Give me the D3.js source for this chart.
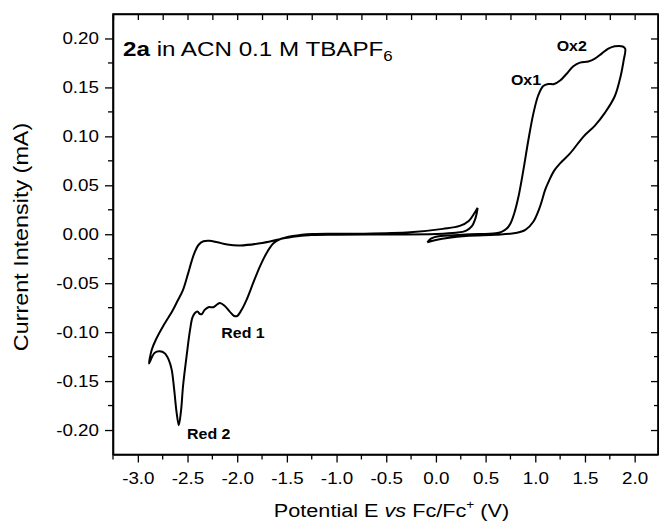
<!DOCTYPE html>
<html>
<head>
<meta charset="utf-8">
<script src="https://cdnjs.cloudflare.com/ajax/libs/d3/7.8.5/d3.min.js"></script>
<style>
  body { margin: 0; background: #fff; }
  svg { display: block; }
  text { font-family: "Liberation Sans", Arial, sans-serif; fill: #000; }
</style>
</head>
<body>
<svg></svg>
<script>
var WIDTH = 659;
var HEIGHT = 529;
var STRETCH = 1.14; // text in the original is a bit wide

// reduction scan (V vs Fc/Fc+, mA)
var redE = [0.42, 0.40, 0.36, 0.30, 0.20, 0.0, -0.5, -1.0, -1.25, -1.44, -1.57, -1.77, -1.97, -2.10, -2.20, -2.28, -2.34, -2.39, -2.43, -2.46, -2.494, -2.545, -2.60, -2.65, -2.746, -2.82, -2.86, -2.887,
  -2.86, -2.83, -2.78, -2.73, -2.69, -2.66, -2.635, -2.61, -2.588, -2.565, -2.545, -2.51, -2.475, -2.45, -2.425, -2.40, -2.375, -2.355, -2.33, -2.29, -2.24, -2.20, -2.175, -2.13, -2.075, -2.03, -2.0, -1.96, -1.906, -1.84, -1.772, -1.705, -1.638, -1.571, -1.44, -1.24, -0.8, -0.26, 0.07, 0.24, 0.33, 0.39, 0.42];
var redI = [0.027, 0.017, 0.008, 0.0035, 0.0015, 0.0003, -0.0002, -0.0004, -0.0008, -0.0025, -0.005, -0.0092, -0.0114, -0.0105, -0.0082, -0.0066, -0.0072, -0.011, -0.019, -0.028, -0.040, -0.0568, -0.068, -0.078, -0.094, -0.108, -0.118, -0.132,
  -0.126, -0.121, -0.1196, -0.1215, -0.128, -0.138, -0.158, -0.182, -0.195, -0.18, -0.155, -0.125, -0.098, -0.085, -0.0805, -0.079, -0.0815, -0.0815, -0.0775, -0.0745, -0.0745, -0.0715, -0.0703, -0.0728, -0.079, -0.0835, -0.0835, -0.078, -0.067, -0.05, -0.033, -0.0194, -0.0095, -0.0051, -0.0018, 0.0003, 0.0005, 0.002, 0.0055, 0.0085, 0.0135, 0.022, 0.027];

// oxidation scan
var oxE = [-0.087, -0.05, 0.0, 0.3, 0.6, 0.66, 0.71, 0.75, 0.79, 0.83, 0.88, 0.93, 0.98, 1.03, 1.08, 1.13, 1.19, 1.25, 1.316, 1.383, 1.45, 1.534, 1.60, 1.668, 1.735, 1.80, 1.88, 1.905,
  1.89, 1.86, 1.80, 1.70, 1.60, 1.483, 1.35, 1.25, 1.19, 1.14, 1.10, 1.047, 0.98, 0.90, 0.80, 0.6, 0.3, 0.0, -0.087];
var oxI = [-0.0082, -0.0045, -0.0025, -0.0003, 0.001, 0.0025, 0.0055, 0.011, 0.022, 0.038, 0.0655, 0.096, 0.123, 0.142, 0.1515, 0.1535, 0.1535, 0.157, 0.164, 0.1716, 0.1753, 0.1765, 0.1794, 0.1845, 0.1896, 0.192, 0.1918, 0.1895,
  0.178, 0.162, 0.141, 0.124, 0.111, 0.0995, 0.0826, 0.0724, 0.065, 0.055, 0.0455, 0.0281, 0.0128, 0.0044, 0.0012, -0.0005, -0.0018, -0.0058, -0.0082];

var xTicks = [-3.0, -2.5, -2.0, -1.5, -1.0, -0.5, 0.0, 0.5, 1.0, 1.5, 2.0];
var xMinor = [-3.25, -2.75, -2.25, -1.75, -1.25, -0.75, -0.25, 0.25, 0.75, 1.25, 1.75];
var yTicks = [-0.20, -0.15, -0.10, -0.05, 0.00, 0.05, 0.10, 0.15, 0.20];
var yMinor = [-0.175, -0.125, -0.075, -0.025, 0.025, 0.075, 0.125, 0.175];

var peakLabels = ['Ox1', 'Ox2', 'Red 1', 'Red 2'];
var peakE = [0.755, 1.215, -2.16, -2.505];
var peakI = [0.152, 0.187, -0.106, -0.209];

var svg = d3.select('svg')
  .attr('width', WIDTH)
  .attr('height', HEIGHT);

var pLeft = 113, pRight = 658, pTop = 14, pBottom = 454.5;

var xScale = d3.scaleLinear().domain([-3.25, 2.235]).range([pLeft, pRight]);
var yScale = d3.scaleLinear().domain([-0.225, 0.225]).range([pBottom, pTop]);

var fmtX = function(d) { return d.toFixed(1); };
var fmtY = function(d) { return d.toFixed(2); };

// bottom axis, ticks out
var bottomAxis = d3.axisBottom(xScale).tickValues(xTicks).tickFormat(fmtX).tickSize(8).tickSizeOuter(0).tickPadding(10);
var gb = svg.append('g').attr('transform', 'translate(0,' + pBottom + ')').call(bottomAxis);
gb.selectAll('.tick text').attr('font-size', 16.5).attr('transform', 'scale(' + STRETCH + ',1)').attr('dy', '0.72em');
gb.selectAll('.minor').data(xMinor).enter().append('line')
  .attr('x1', function(d) { return xScale(d); }).attr('x2', function(d) { return xScale(d); })
  .attr('y1', 0).attr('y2', 5).attr('stroke', '#000').attr('stroke-width', 1.3);

// left axis, ticks out
var leftAxis = d3.axisLeft(yScale).tickValues(yTicks).tickFormat(fmtY).tickSize(8).tickSizeOuter(0).tickPadding(6);
var gl = svg.append('g').attr('transform', 'translate(' + pLeft + ',0)').call(leftAxis);
gl.selectAll('.tick text').attr('font-size', 16.5)
  .attr('x', -14 / STRETCH).attr('transform', 'scale(' + STRETCH + ',1)');
gl.selectAll('.minor').data(yMinor).enter().append('line')
  .attr('y1', function(d) { return yScale(d); }).attr('y2', function(d) { return yScale(d); })
  .attr('x1', 0).attr('x2', -5).attr('stroke', '#000').attr('stroke-width', 1.3);

// top and right axes, ticks inside, no labels
var topAxis = d3.axisBottom(xScale).tickValues(xTicks.concat(xMinor)).tickFormat('').tickSize(6).tickSizeOuter(0);
svg.append('g').attr('transform', 'translate(0,' + pTop + ')').call(topAxis);
var rightAxis = d3.axisLeft(yScale).tickValues(yTicks).tickFormat('').tickSize(7).tickSizeOuter(0);
var gr = svg.append('g').attr('transform', 'translate(' + pRight + ',0)').call(rightAxis);
gr.selectAll('.minor').data(yMinor).enter().append('line')
  .attr('y1', function(d) { return yScale(d); }).attr('y2', function(d) { return yScale(d); })
  .attr('x1', 0).attr('x2', -4).attr('stroke', '#000').attr('stroke-width', 1.3);

svg.selectAll('.domain').attr('stroke-width', 1.6);
svg.selectAll('.tick line').attr('stroke-width', 1.3);

// frame
svg.append('rect')
  .attr('x', pLeft).attr('y', pTop)
  .attr('width', pRight - pLeft).attr('height', pBottom - pTop)
  .attr('fill', 'none').attr('stroke', '#000').attr('stroke-width', 1.6);

// curves
var line = d3.line()
  .x(function(d) { return xScale(d[0]); })
  .y(function(d) { return yScale(d[1]); })
  .curve(d3.curveCatmullRom.alpha(0.5));

var redData = redE.map(function(e, i) { return [e, redI[i]]; });
var oxData = oxE.map(function(e, i) { return [e, oxI[i]]; });

svg.selectAll('path.cv').data([redData, oxData]).enter().append('path')
  .attr('class', 'cv')
  .attr('d', line)
  .attr('fill', 'none')
  .attr('stroke', '#000')
  .attr('stroke-width', 2)
  .attr('stroke-linejoin', 'round');

// peak labels
svg.selectAll('text.peak').data(peakLabels).enter().append('text')
  .attr('class', 'peak')
  .attr('transform', function(d, i) { return 'translate(' + xScale(peakE[i]) + ',' + yScale(peakI[i]) + ') scale(' + STRETCH + ',1)'; })
  .attr('font-size', 14)
  .attr('font-weight', 'bold')
  .text(function(d) { return d; });

// sample note
var note = svg.append('text')
  .attr('transform', 'translate(123,56) scale(1.21,1)')
  .attr('font-size', 20);
note.append('tspan').attr('font-weight', 'bold').text('2a');
note.append('tspan').text(' in ACN 0.1 M TBAPF');
note.append('tspan').attr('font-size', 14).attr('dy', 5).text('6');

// axis titles
var xt = svg.append('text')
  .attr('transform', 'translate(' + ((pLeft + pRight) / 2 + 6) + ',517) scale(' + STRETCH + ',1)')
  .attr('text-anchor', 'middle')
  .attr('font-size', 19);
xt.append('tspan').text('Potential E ');
xt.append('tspan').attr('font-style', 'italic').text('vs');
xt.append('tspan').text(' Fc/Fc');
xt.append('tspan').attr('font-size', 12).attr('dy', -8).text('+');
xt.append('tspan').attr('dy', 8).text(' (V)');

svg.append('text')
  .attr('transform', 'translate(28,237) rotate(-90) scale(' + STRETCH + ',1)')
  .attr('text-anchor', 'middle')
  .attr('font-size', 20.5)
  .text('Current Intensity (mA)');
</script>
</body>
</html>
